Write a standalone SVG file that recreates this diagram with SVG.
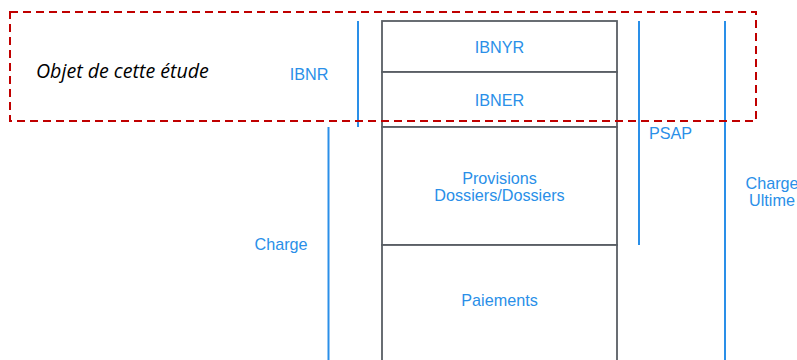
<svg xmlns="http://www.w3.org/2000/svg" width="797" height="360" viewBox="0 0 797 360">
  <style>
    .cell { fill: #ffffff; stroke: #595e64; stroke-width: 1.8; }
    .lbl { font-family: "Liberation Sans", Arial, sans-serif; font-size: 16.2px; fill: #2a8fe8; text-anchor: middle; }
    .span { stroke: #2a8fe8; stroke-width: 2; fill: none; }
    .scope { fill: none; stroke: #c00000; stroke-width: 2; stroke-dasharray: 8 5; }
    .note { font-family: "Open Sans", "Liberation Sans", sans-serif; font-style: italic; font-size: 19.6px; fill: #000000; }
  </style>
  <rect width="797" height="360" fill="#ffffff"/>

  <!-- stacked column of reserve components -->
  <g id="ibnyr">
    <rect class="cell" x="382" y="21" width="235" height="51"/>
    <text class="lbl" x="499.5" y="53">IBNYR</text>
  </g>
  <g id="ibner">
    <rect class="cell" x="382" y="72" width="235" height="55"/>
    <text class="lbl" x="499.5" y="106">IBNER</text>
  </g>
  <g id="provisions">
    <rect class="cell" x="382" y="127" width="235" height="118"/>
    <text class="lbl" x="499.5" y="184">Provisions</text>
    <text class="lbl" x="499.5" y="201">Dossiers/Dossiers</text>
  </g>
  <g id="paiements">
    <rect class="cell" x="382" y="245" width="235" height="125"/>
    <text class="lbl" x="499.5" y="306">Paiements</text>
  </g>

  <!-- brackets showing what each total covers -->
  <g id="connectors">
    <line class="span" x1="358" y1="21" x2="358" y2="127"/>
    <line class="span" x1="328.5" y1="127" x2="328.5" y2="360"/>
    <line class="span" x1="639" y1="21" x2="639" y2="245"/>
    <line class="span" x1="725" y1="21" x2="725" y2="360"/>
  </g>

  <g id="ibnr">
    <text class="lbl" x="309" y="80">IBNR</text>
  </g>
  <g id="charge">
    <text class="lbl" x="281" y="250">Charge</text>
  </g>
  <g id="psap">
    <text class="lbl" x="670.5" y="139">PSAP</text>
  </g>
  <g id="charge-ultime">
    <text class="lbl" x="772" y="189">Charge</text>
    <text class="lbl" x="772" y="206">Ultime</text>
  </g>

  <!-- scope of the study -->
  <g id="scope">
    <rect class="scope" x="10" y="12" width="746" height="109"/>
    <text class="note" x="36" y="78">Objet de cette étude</text>
  </g>
</svg>
